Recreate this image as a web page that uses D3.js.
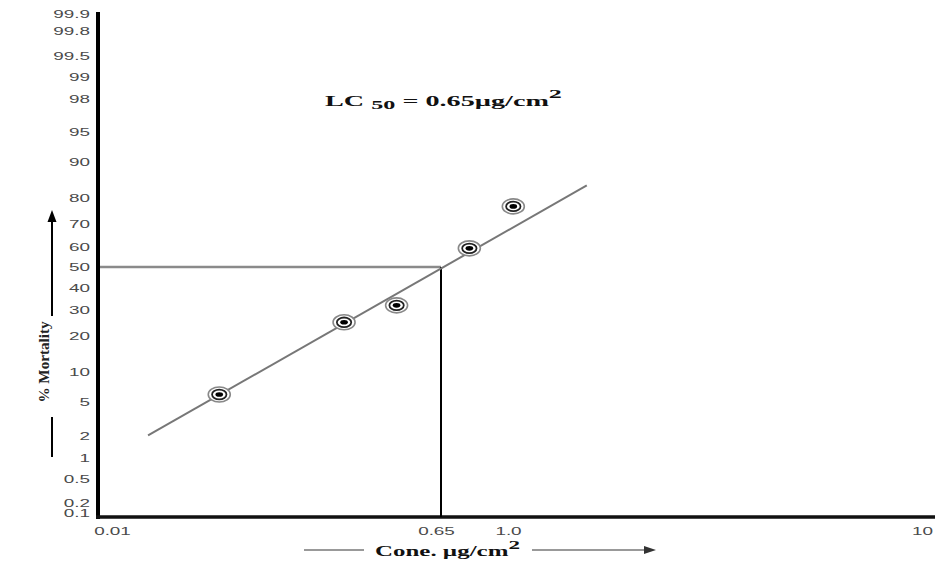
<!DOCTYPE html>
<html>
<head>
<meta charset="utf-8">
<script src="https://cdn.jsdelivr.net/npm/d3@7"></script>
<style>
  html, body { margin: 0; padding: 0; background: #fff; }
  svg { display: block; }
</style>
</head>
<body>
<svg id="chart" width="948" height="567"></svg>
<script>
// ---------------- data ----------------
const concentrations = [0.039, 0.19, 0.37, 0.78, 1.03];      // µg/cm²
const mortality      = [6, 25, 32, 59, 77];                  // %
const lineConc       = [0.0158, 1.55];                       // fitted probit line ends
const lineMort       = [2.0, 84];
const lc50Conc       = 0.65;
const lc50Mort       = 50;
const yTickLabels    = [0.1, 0.2, 0.5, 1, 2, 5, 10, 20, 30, 40, 50, 60, 70, 80, 90, 95, 98, 99, 99.5, 99.8, 99.9];
const xTickValues    = [0.01, 0.65, 1, 10];
const xTickLabels    = ["0.01", "0.65", "1.0", "10"];

// inverse standard normal CDF (Acklam)
function probit(p) {
  const a = [-3.969683028665376e+01, 2.209460984245205e+02, -2.759285104469687e+02, 1.383577518672690e+02, -3.066479806614716e+01, 2.506628277459239e+00];
  const b = [-5.447609879822406e+01, 1.615858368580409e+02, -1.556989798598866e+02, 6.680131188771972e+01, -1.328068155288572e+01];
  const c = [-7.784894002430293e-03, -3.223964580411365e-01, -2.400758277161838e+00, -2.549732539343734e+00, 4.374664141464968e+00, 2.938163982698783e+00];
  const d = [7.784695709041462e-03, 3.224671290700398e-01, 2.445134137142996e+00, 3.754408661907416e+00];
  const pl = 0.02425, ph = 1 - pl;
  let q, r;
  if (p < pl) {
    q = Math.sqrt(-2 * Math.log(p));
    return (((((c[0]*q+c[1])*q+c[2])*q+c[3])*q+c[4])*q+c[5]) / ((((d[0]*q+d[1])*q+d[2])*q+d[3])*q+1);
  } else if (p <= ph) {
    q = p - 0.5; r = q*q;
    return (((((a[0]*r+a[1])*r+a[2])*r+a[3])*r+a[4])*r+a[5])*q / (((((b[0]*r+b[1])*r+b[2])*r+b[3])*r+b[4])*r+1);
  } else {
    q = Math.sqrt(-2 * Math.log(1 - p));
    return -(((((c[0]*q+c[1])*q+c[2])*q+c[3])*q+c[4])*q+c[5]) / ((((d[0]*q+d[1])*q+d[2])*q+d[3])*q+1);
  }
}

// ---------------- scales ----------------
const svg = d3.select("#chart");
const axisX0 = 98, axisYb = 517;

const x = d3.scaleLog().domain([0.01, 0.65, 1, 10]).range([112, 441, 508, 922]);
const yz = d3.scaleLinear().domain([-3.0, 3.09]).range([513, 13.6]).clamp(true);
const y = pct => yz(probit(pct / 100));

// ---------------- axes ----------------
const yAxis = d3.axisLeft(yz)
  .tickValues(yTickLabels.map(p => probit(p / 100)))
  .tickFormat((d, i) => String(yTickLabels[i]))
  .tickSize(0);
const gy = svg.append("g").attr("transform", `translate(${axisX0},0)`).call(yAxis);
gy.select(".domain").remove();
gy.selectAll("text")
  .attr("x", 0).attr("dy", "0.36em")
  .attr("transform", "translate(-8,0) scale(1.8,1)")
  .style("font-family", "'Liberation Sans', Arial, sans-serif")
  .style("font-size", "10.5px")
  .attr("fill", "#4a4a4a");

const xAxis = d3.axisBottom(x)
  .tickValues(xTickValues)
  .tickFormat((d, i) => xTickLabels[i])
  .tickSize(0);
const gx = svg.append("g").attr("transform", `translate(0,${axisYb})`).call(xAxis);
gx.select(".domain").remove();
gx.selectAll("text")
  .attr("y", 0).attr("dy", "0.71em")
  .attr("transform", (d, i) => `translate(${i === 1 ? -5 : 0},11) scale(1.8,1)`)
  .style("font-family", "'Liberation Sans', Arial, sans-serif")
  .style("font-size", "10.5px")
  .attr("fill", "#4a4a4a");

// axis lines
svg.append("line").attr("x1", axisX0).attr("x2", axisX0).attr("y1", 12).attr("y2", axisYb + 2)
  .attr("stroke", "#000").attr("stroke-width", 4);
svg.append("line").attr("x1", axisX0 - 2).attr("x2", 935).attr("y1", axisYb).attr("y2", axisYb)
  .attr("stroke", "#111").attr("stroke-width", 3.5);

// ---------------- LC50 guide lines ----------------
svg.append("line")
  .attr("x1", axisX0 + 2).attr("x2", x(lc50Conc))
  .attr("y1", y(lc50Mort)).attr("y2", y(lc50Mort))
  .attr("stroke", "#8a8a8a").attr("stroke-width", 2.5);
svg.append("line")
  .attr("x1", x(lc50Conc)).attr("x2", x(lc50Conc))
  .attr("y1", y(lc50Mort)).attr("y2", axisYb)
  .attr("stroke", "#000").attr("stroke-width", 2);

// ---------------- fitted line ----------------
const lineData = lineConc.map((c, i) => [c, lineMort[i]]);
svg.append("path")
  .datum(lineData)
  .attr("d", d3.line().x(d => x(d[0])).y(d => y(d[1])))
  .attr("fill", "none").attr("stroke", "#777").attr("stroke-width", 2);

// ---------------- points ----------------
const pts = concentrations.map((c, i) => ({ c, m: mortality[i] }));
const pg = svg.append("g").selectAll("g").data(pts).join("g")
  .attr("transform", d => `translate(${x(d.c)},${y(d.m)})`);
pg.append("ellipse").attr("rx", 11).attr("ry", 7.5).attr("fill", "#fff").attr("stroke", "#888").attr("stroke-width", 1.6);
pg.append("ellipse").attr("rx", 7.2).attr("ry", 4.8).attr("fill", "#fff").attr("stroke", "#222").attr("stroke-width", 1.8);
pg.append("ellipse").attr("rx", 3.8).attr("ry", 2.3).attr("fill", "#000");

// ---------------- text helpers ----------------
function stretchText(sel, cx, baseline, targetW) {
  const w = sel.node().getBBox().width;
  sel.attr("transform", `translate(${cx},${baseline}) scale(${targetW / w},1)`);
}

// title
const title = svg.append("text")
  .attr("x", 0).attr("y", 0).attr("text-anchor", "middle")
  .style("font-family", "'Liberation Serif', 'Times New Roman', serif")
  .style("font-weight", "bold").style("font-size", "14px").attr("fill", "#111");
title.append("tspan").text("LC ");
title.append("tspan").attr("dy", 3).style("font-size", "12px").text("50");
title.append("tspan").attr("dy", -3).text(" = 0.65µg/cm");
title.append("tspan").attr("dy", -8).style("font-size", "13px").text("2");
stretchText(title, 443.5, 106, 237);

// x label
const xl = svg.append("text")
  .attr("x", 0).attr("y", 0).attr("text-anchor", "middle")
  .style("font-family", "'Liberation Serif', 'Times New Roman', serif")
  .style("font-weight", "bold").style("font-size", "14px").attr("fill", "#111");
xl.append("tspan").text("Cone. µg/cm");
xl.append("tspan").attr("dy", -7).style("font-size", "13px").text("2");
stretchText(xl, 447.5, 556, 145);

// x label arrows
svg.append("line").attr("x1", 304).attr("x2", 364).attr("y1", 550).attr("y2", 550)
  .attr("stroke", "#777").attr("stroke-width", 1.6);
svg.append("path").attr("d", "M532,550 H646").attr("stroke", "#777").attr("stroke-width", 1.6);
svg.append("path").attr("d", "M644,546 L656,550 L644,554 Z").attr("fill", "#333");

// y label
const yl = svg.append("text")
  .attr("x", 0).attr("y", 0).attr("text-anchor", "middle")
  .style("font-family", "'Liberation Serif', 'Times New Roman', serif")
  .style("font-size", "11px").style("font-weight", "bold").attr("fill", "#222")
  .text("% Mortality");
const ylen = yl.node().getBBox().width;
yl.attr("transform", `translate(49,362) scale(1.4,1) rotate(-90) scale(${82 / ylen},1)`);

// y arrows
svg.append("line").attr("x1", 52).attr("x2", 52).attr("y1", 316).attr("y2", 220)
  .attr("stroke", "#000").attr("stroke-width", 2);
svg.append("path").attr("d", "M47.5,222 L52,210 L56.5,222 Z").attr("fill", "#000");
svg.append("line").attr("x1", 52).attr("x2", 52).attr("y1", 417).attr("y2", 457)
  .attr("stroke", "#000").attr("stroke-width", 2);
</script>
</body>
</html>
